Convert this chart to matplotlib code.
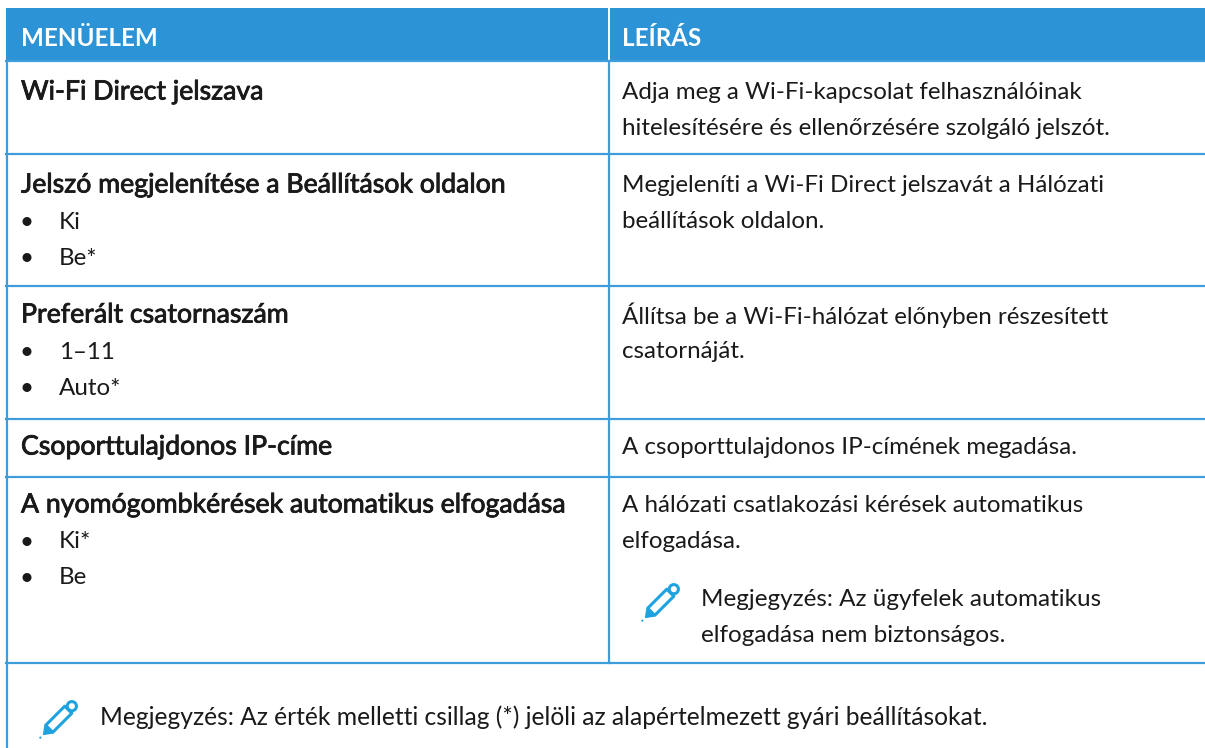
import math
import matplotlib.pyplot as plt
import matplotlib.patheffects as pe
from matplotlib.patches import Rectangle, Polygon, Circle

plt.rcParams['font.family'] = ['Lato', 'DejaVu Sans']

header_labels = ["MENÜELEM", "LEÍRÁS"]
row_titles = [
    "Wi-Fi Direct jelszava",
    "Jelszó megjelenítése a Beállítások oldalon",
    "Preferált csatornaszám",
    "Csoporttulajdonos IP-címe",
    "A nyomógombkérések automatikus elfogadása",
]
row_options = [
    [],
    ["Ki", "Be*"],
    ["1–11", "Auto*"],
    [],
    ["Ki*", "Be"],
]
row_descriptions = [
    ["Adja meg a Wi-Fi-kapcsolat felhasználóinak", "hitelesítésére és ellenőrzésére szolgáló jelszót."],
    ["Megjeleníti a Wi-Fi Direct jelszavát a Hálózati", "beállítások oldalon."],
    ["Állítsa be a Wi-Fi-hálózat előnyben részesített", "csatornáját."],
    ["A csoporttulajdonos IP-címének megadása."],
    ["A hálózati csatlakozási kérések automatikus", "elfogadása."],
]
row_note = ["Megjegyzés: Az ügyfelek automatikus", "elfogadása nem biztonságos."]
footer_note = "Megjegyzés: Az érték melletti csillag (*) jelöli az alapértelmezett gyári beállításokat."

row_lines = [61, 154, 286, 419, 477, 663]
title_y = [92, 185, 315, 447, 505]

BLUE = '#2b93d6'
LINE = '#3f9ddb'
TEXT = '#1a1a1a'
ICON = '#1fa3e0'
FS = 17.4
SPACING = 36
LEFT, MID, RIGHT = 6, 609, 1205


def draw_pencil(ax, x, y):
    # x, y is the pen tip, s runs along the pen and t across it
    r = math.sqrt(2)

    def pts(pairs):
        return [(x + (s + t) / r, y + (t - s) / r) for s, t in pairs]

    ax.add_patch(Circle(pts([(45, 0)])[0], 4.6, fill=False, ec=ICON, lw=2.2))
    ax.add_patch(Polygon(pts([(13, -5), (40, -5), (40, 5), (13, 5)]), closed=True,
                         fc='white', ec=ICON, lw=2.2, joinstyle='round'))
    ax.add_patch(Polygon(pts([(5, 0), (12, -5), (12, 5)]), closed=True, fc=ICON, ec=ICON, lw=1))
    ax.add_patch(Circle(pts([(0.5, 0)])[0], 1.1, fc=ICON, ec='none'))


fig = plt.figure(figsize=(12.05, 7.48), dpi=100)
ax = fig.add_axes([0, 0, 1, 1])
ax.set_xlim(0, 1205)
ax.set_ylim(748, 0)
ax.axis('off')

# header band
ax.add_patch(Rectangle((LEFT, 8), RIGHT - LEFT, 53, fc=BLUE, ec='none'))
ax.plot([MID, MID], [8, 61], color='white', lw=1.4)
ax.text(21, 38, header_labels[0], color='white', fontsize=FS, fontweight='bold', va='center')
ax.text(622, 38, header_labels[1], color='white', fontsize=FS, fontweight='bold', va='center')

# grid
for y in row_lines:
    ax.plot([LEFT, RIGHT], [y, y], color=LINE, lw=1.6)
ax.plot([LEFT + 0.5, LEFT + 0.5], [61, 748], color=LINE, lw=1.6)
ax.plot([MID, MID], [61, 663], color=LINE, lw=1.6)

# rows, the thin stroke thickens the titles to the reference's medium weight
heavier = [pe.withStroke(linewidth=0.6, foreground=TEXT)]
for i in range(len(row_titles)):
    ty = title_y[i]
    ax.text(21, ty, row_titles[i], color=TEXT, fontsize=19.2, va='center', path_effects=heavier)
    for j, opt in enumerate(row_options[i]):
        yy = ty + (j + 1) * SPACING + 1
        ax.text(27, yy, "•", color=TEXT, fontsize=FS, va='center', ha='center')
        ax.text(59, yy, opt, color=TEXT, fontsize=FS, va='center')
    for j, line in enumerate(row_descriptions[i]):
        ax.text(622, ty + j * SPACING, line, color=TEXT, fontsize=FS, va='center')

# note inside the last row
draw_pencil(ax, 642, 621)
ax.text(701, 600, row_note[0], color=TEXT, fontsize=17.5, va='center')
ax.text(701, 636, row_note[1], color=TEXT, fontsize=17.5, va='center')

# footer note
draw_pencil(ax, 40, 738)
ax.text(100, 717, footer_note, color=TEXT, fontsize=17.7, va='center')

fig.savefig('out.png', dpi=100)
plt.close(fig)
